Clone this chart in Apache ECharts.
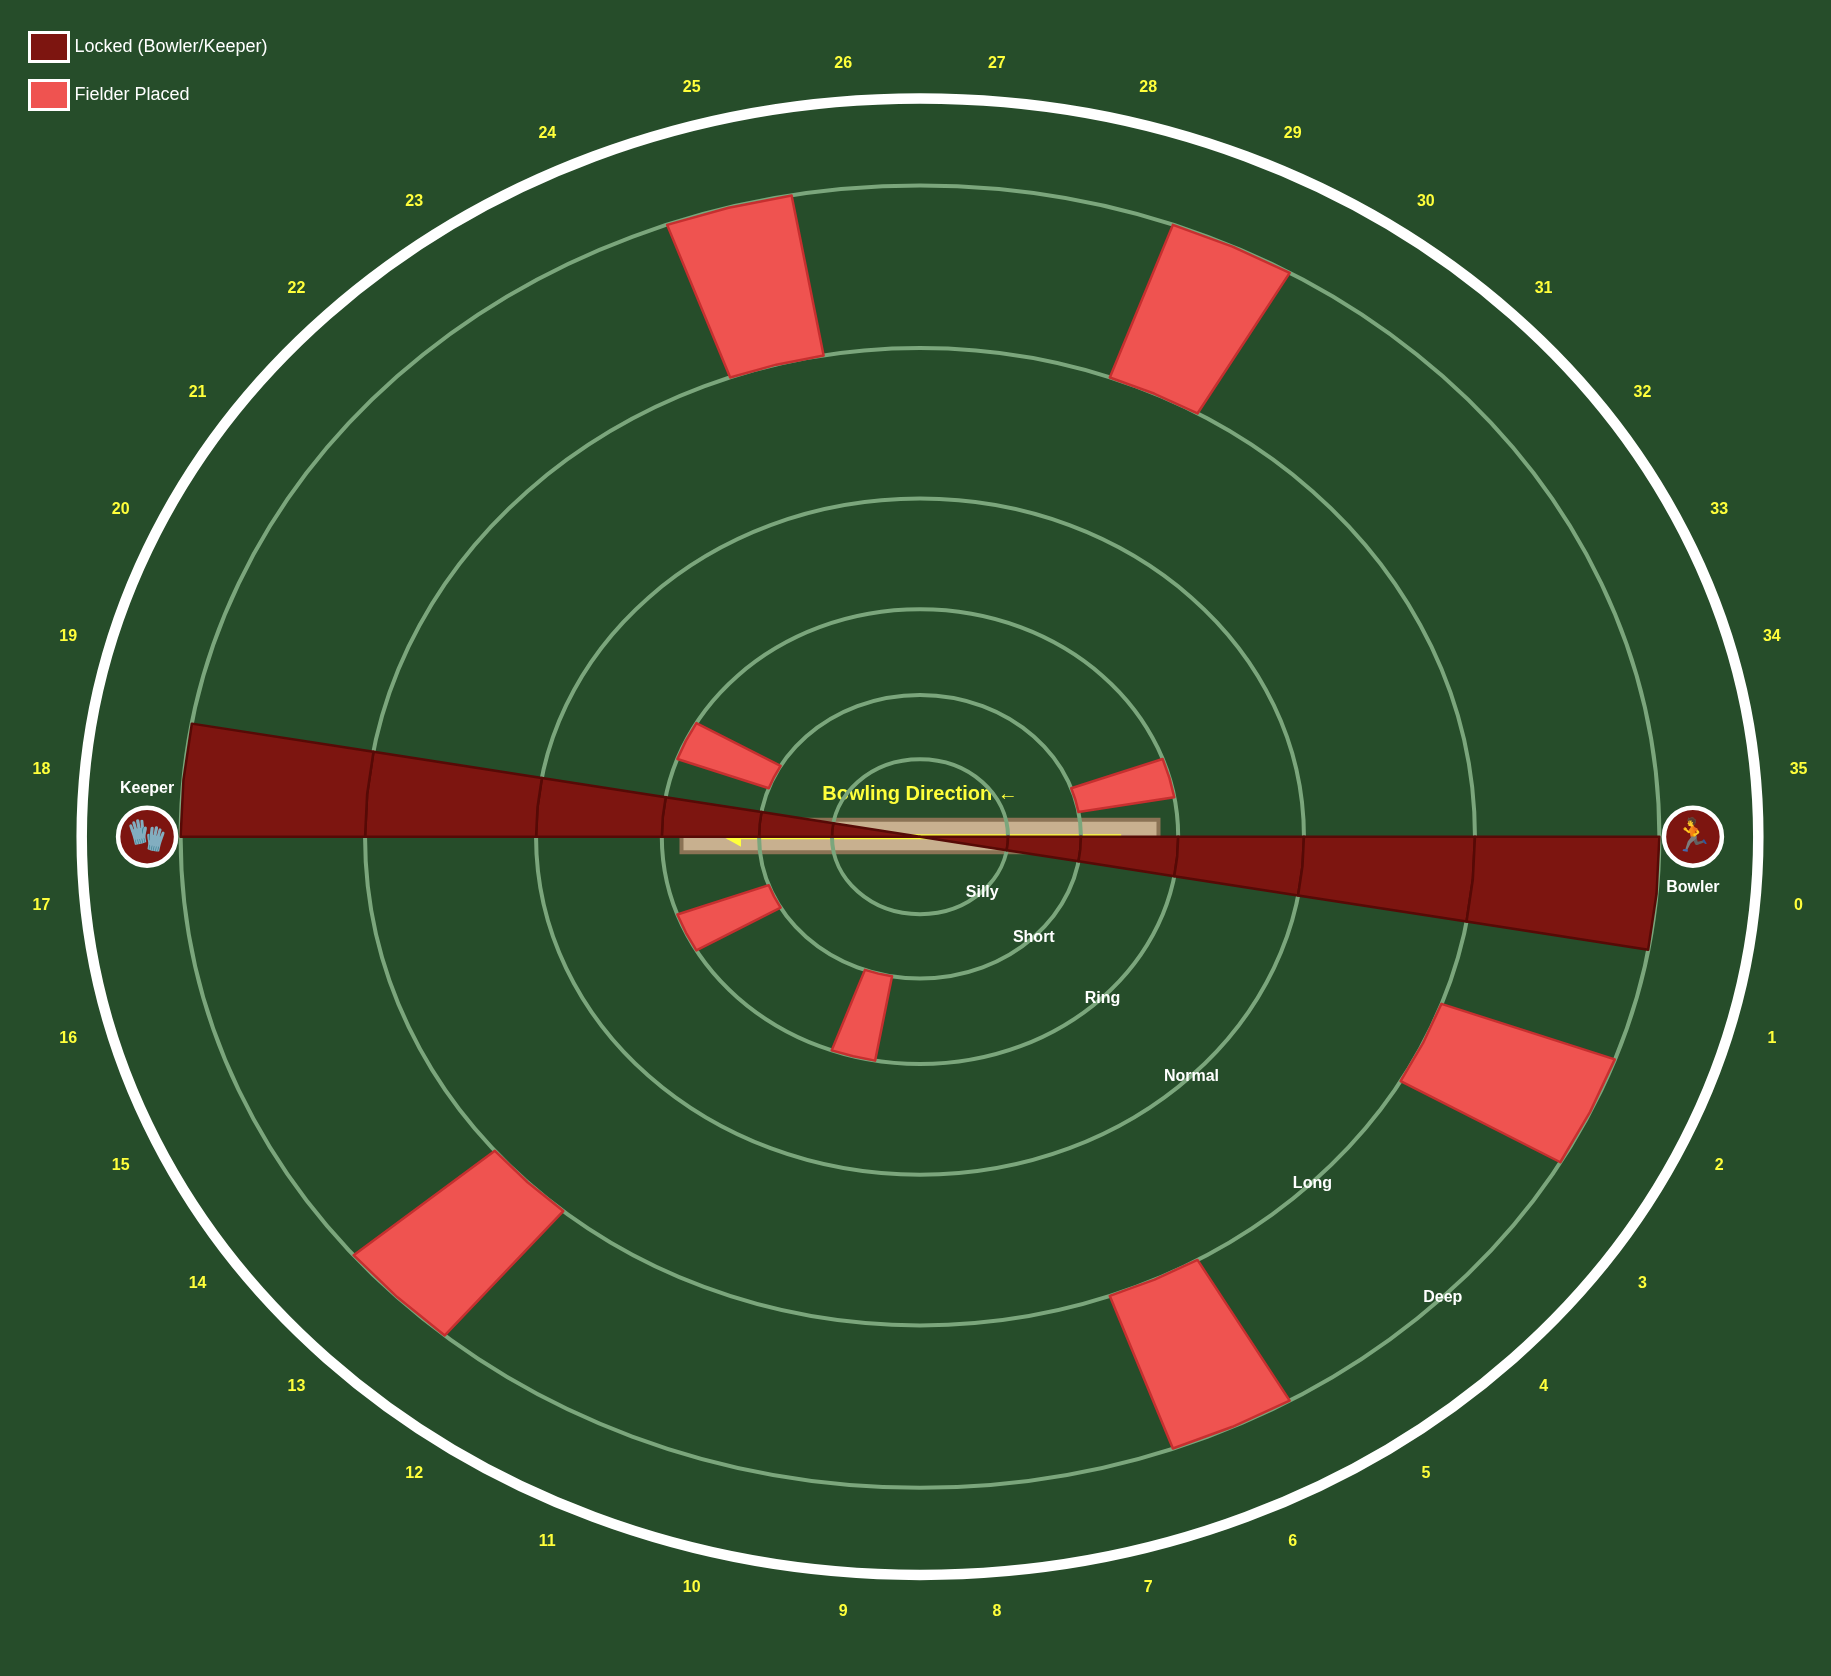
<!DOCTYPE html>
<html><head><meta charset="utf-8">
<style>html,body{margin:0;padding:0;background:#264D2A}#c{width:1831px;height:1676px}</style>
<script src="https://cdn.jsdelivr.net/npm/echarts@6/dist/echarts.min.js"></script>
</head><body><div id="c"></div>
<script>
const bandNames = ['Silly','Short','Ring','Normal','Long','Deep'];
const bandRadii = [0, 0.105, 0.192, 0.308, 0.458, 0.662, 0.882];
const sectorLabels = ['0','1','2','3','4','5','6','7','8','9','10','11','12','13','14','15','16','17','18','19','20','21','22','23','24','25','26','27','28','29','30','31','32','33','34','35'];
const lockedSectors = [0, 18];
const lockedBands = [0, 1, 2, 3, 4, 5];
const fielderCells = [[2,5],[6,5],[10,2],[13,5],[15,2],[20,2],[25,5],[29,5],[34,2]];
const players = [['Bowler','\u{1F3C3}',0],['Keeper','\u{1F9E4}',180]];

const SANS = '"Liberation Sans", Arial, sans-serif';
const BG = '#264D2A', DARK = '#7D1510', DARK_EDGE = '#560A06', LIGHT = '#EF5350', LIGHT_EDGE = '#C62F2F';
const RING = '#7BA67C', YEL = '#FFFF3B';
const SECTOR_DEG = 10, BOUNDARY = 1, LABEL_R = 1.052, PLAYER_R = 0.922, TEXT_DY = 1;

function polar(api, deg, r){ const a = deg*Math.PI/180; return api.coord([r*Math.cos(a), -r*Math.sin(a)]); }
function cellShape(api, sector, band){
  const a0 = sector*SECTOR_DEG, a1 = a0+SECTOR_DEG, am = (a0+a1)/2;
  const ri = bandRadii[band], ro = bandRadii[band+1];
  return [polar(api,a0,ri),polar(api,am,ri),polar(api,a1,ri),polar(api,a1,ro),polar(api,am,ro),polar(api,a0,ro)];
}
function cellSeries(name, data, fill, edge, z){
  return {name, type:'custom', coordinateSystem:'cartesian2d', z, data, itemStyle:{color:fill}, silent:true,
    renderItem(p, api){
      return {type:'polygon', shape:{points:cellShape(api, api.value(0), api.value(1))},
        style:{fill, stroke:edge, lineWidth:2.5, lineJoin:'round'}};
    }};
}
const lockedData = [];
lockedSectors.forEach(s => lockedBands.forEach(b => lockedData.push([s,b])));

const option = {
  backgroundColor: BG, animation:false,
  grid:{left:81.7, top:98.5, width:1676.6, height:1476.4},
  xAxis:{type:'value', min:-1, max:1, show:false},
  yAxis:{type:'value', min:-1, max:1, show:false},
  legend:{left:23, top:26, orient:'vertical', icon:'rect', itemWidth:39, itemHeight:29, itemGap:16,
    selectedMode:false,
    itemStyle:{borderColor:'#fff', borderWidth:3},
    textStyle:{color:'#fff', fontSize:18, fontFamily:SANS, padding:[0,0,0,1]},
    data:['Locked (Bowler/Keeper)','Fielder Placed']},
  series:[
    {name:'pitch', type:'custom', coordinateSystem:'cartesian2d', z:1, silent:true, data:[[0]],
     renderItem(p, api){
       const a = api.coord([-0.2845, 0.0229]), b = api.coord([0.2845, -0.0209]);
       const s = api.coord([0.24, 0]), e = api.coord([-0.235, 0]), t = api.coord([0,0.0583]);
       return {type:'group', children:[
         {type:'rect', shape:{x:a[0],y:a[1],width:b[0]-a[0],height:b[1]-a[1]},
          style:{fill:'#C8B08F', stroke:'#8B7355', lineWidth:4}},
         {type:'line', shape:{x1:s[0],y1:s[1],x2:e[0]+4,y2:e[1]}, style:{stroke:YEL, lineWidth:5}},
         {type:'polygon', shape:{points:[[e[0],e[1]],[e[0]+18,e[1]-10],[e[0]+18,e[1]+10]]}, style:{fill:YEL}},
         {type:'text', style:{x:t[0],y:t[1]+TEXT_DY,text:'Bowling Direction \u2190',fill:YEL,
            font:'bold 20px '+SANS,align:'center',verticalAlign:'middle'}}
       ]};
     }},
    {name:'rings', type:'custom', coordinateSystem:'cartesian2d', z:2, silent:true,
     data:bandRadii.slice(1).map(r=>[r,1]).concat([[BOUNDARY,2]]),
     renderItem(p, api){
       const r = api.value(0), c = api.coord([0,0]), sz = api.size([r,r]);
       const outer = api.value(1)===2;
       return {type:'ellipse', shape:{cx:c[0],cy:c[1],rx:sz[0],ry:sz[1]},
         style:{fill:'none', stroke: outer?'#fff':RING, lineWidth: outer?10.5:4}};
     }},
    cellSeries('Locked (Bowler/Keeper)', lockedData, DARK, DARK_EDGE, 3),
    cellSeries('Fielder Placed', fielderCells, LIGHT, LIGHT_EDGE, 4),
    {name:'bandLabels', type:'custom', coordinateSystem:'cartesian2d', z:5, silent:true,
     data:bandNames.map((n,i)=>[i]),
     renderItem(p, api){
       const i = api.value(0), c = polar(api,45,bandRadii[i+1]);
       return {type:'text', style:{x:c[0],y:c[1]+TEXT_DY,text:bandNames[i],fill:'#fff',
         font:'bold 16px '+SANS,align:'center',verticalAlign:'middle'}};
     }},
    {name:'sectorLabels', type:'custom', coordinateSystem:'cartesian2d', z:5, silent:true,
     data:sectorLabels.map((n,i)=>[i]),
     renderItem(p, api){
       const i = api.value(0), c = polar(api,i*SECTOR_DEG+SECTOR_DEG/2,LABEL_R);
       return {type:'text', style:{x:c[0],y:c[1]+TEXT_DY,text:sectorLabels[i],fill:YEL,
         font:'bold 16px '+SANS,align:'center',verticalAlign:'middle'}};
     }},
    {name:'players', type:'custom', coordinateSystem:'cartesian2d', z:6, silent:true,
     data:players.map((n,i)=>[i]),
     renderItem(p, api){
       const pl = players[api.value(0)], c = polar(api,pl[2],PLAYER_R);
       const dy = pl[0]==='Bowler' ? 50 : -49;
       return {type:'group', children:[
         {type:'circle', shape:{cx:c[0],cy:c[1],r:29}, style:{fill:DARK, stroke:'#fff', lineWidth:4.5}},
         {type:'text', style:{x:c[0],y:c[1],text:pl[1],fill:'#6FCF97',
            font:'32px "Noto Color Emoji","Apple Color Emoji","Segoe UI Emoji",'+SANS,align:'center',verticalAlign:'middle'}},
         {type:'text', style:{x:c[0],y:c[1]+dy+TEXT_DY,text:pl[0],fill:'#fff',
            font:'bold 16px '+SANS,align:'center',verticalAlign:'middle'}}
       ]};
     }}
  ]
};
echarts.init(document.getElementById('c'), null, {renderer:'canvas'}).setOption(option);
</script></body></html>
